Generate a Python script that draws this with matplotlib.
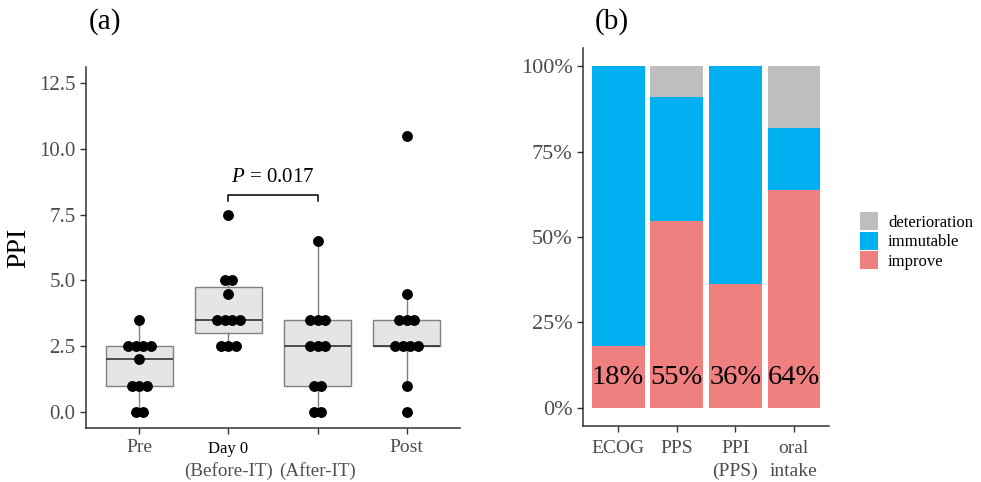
import numpy as np
import matplotlib.pyplot as plt

plt.rcParams['font.family'] = ['Liberation Serif', 'DejaVu Serif']
plt.rcParams['mathtext.fontset'] = 'custom'
plt.rcParams['mathtext.rm'] = 'Liberation Serif'
plt.rcParams['mathtext.it'] = 'Liberation Serif:italic'

# (a) PPI values per time point (11 patients each)
groups = ['Pre', 'Day 0 (Before-IT)', '(After-IT)', 'Post']
ppi_pre = [0, 0, 1, 1, 1, 2, 2.5, 2.5, 2.5, 2.5, 3.5]
ppi_before = [2.5, 2.5, 2.5, 3.5, 3.5, 3.5, 3.5, 4.5, 5, 5, 7.5]
ppi_after = [0, 0, 1, 1, 2.5, 2.5, 2.5, 3.5, 3.5, 3.5, 6.5]
ppi_post = [0, 1, 2.5, 2.5, 2.5, 2.5, 3.5, 3.5, 3.5, 4.5, 10.5]
p_label = '= 0.017'

# (b) counts out of 11 patients
items = ['ECOG', 'PPS', 'PPI\n(PPS)', 'oral\nintake']
n_total = 11
improve = [2, 6, 4, 7]
immutable = [9, 4, 7, 2]
deterioration = [0, 1, 0, 2]

fig = plt.figure(figsize=(9.81, 4.82), dpi=100)
W, H = 981, 482


def px_axes(l, t, r, b):
    return fig.add_axes([l / W, 1 - b / H, (r - l) / W, (b - t) / H])


tick_gray = '#4d4d4d'

# ---------- panel (a) ----------
ax = px_axes(86, 67, 460, 428)
data = [ppi_pre, ppi_before, ppi_after, ppi_post]
pos = np.arange(1, 5)
ax.boxplot(data, positions=pos, widths=0.75, showfliers=False, patch_artist=True,
           boxprops=dict(facecolor='#e5e5e5', edgecolor='#808080', linewidth=1),
           whiskerprops=dict(color='#808080', linewidth=1),
           capprops=dict(linewidth=0),
           medianprops=dict(color='#333333', linewidth=1.2), zorder=1)

dot_w = 0.086  # horizontal spacing of stacked dots
for x0, vals in zip(pos, data):
    uv, cnt = np.unique(vals, return_counts=True)
    for v, c in zip(uv, cnt):
        xs = x0 + (np.arange(c) - (c - 1) / 2) * dot_w
        ax.plot(xs, [v] * c, 'o', color='black', markersize=6.8, zorder=3)

ax.set_xlim(0.4, 4.6)
ax.set_ylim(-0.6, 13.1)
ax.set_yticks(np.arange(0, 12.6, 2.5))
ax.set_yticklabels([f'{v:.1f}' for v in np.arange(0, 12.6, 2.5)])
ax.set_xticks(pos)
ax.set_xticklabels(['Pre', '', '', 'Post'])
ax.tick_params(axis='y', labelsize=15, colors='#333333', labelcolor=tick_gray,
               length=4, width=1)
ax.tick_params(axis='x', labelsize=14, colors='#333333', labelcolor=tick_gray,
               length=4, width=1, pad=4)
for s in ['top', 'right']:
    ax.spines[s].set_visible(False)
for s in ['left', 'bottom']:
    ax.spines[s].set_color('#333333')
    ax.spines[s].set_linewidth(1.1)
ax.set_ylabel('PPI', fontsize=20, color='black', labelpad=6)

xt = ax.get_xaxis_transform()
ax.text(2, -0.035, 'Day 0', transform=xt, ha='center', va='top', fontsize=12, color='black')
ax.text(2, -0.095, '(Before-IT)', transform=xt, ha='center', va='top', fontsize=13.7, color=tick_gray)
ax.text(3, -0.095, '(After-IT)', transform=xt, ha='center', va='top', fontsize=13.7, color=tick_gray)

# significance bracket
yb, yt = 8.0, 8.25
ax.plot([2, 2, 3, 3], [yb, yt, yt, yb], color='black', linewidth=1.1)
ax.text(2.5, 8.55, r'$P$ ' + p_label, ha='center', va='bottom', fontsize=15)

fig.text(105 / W, 1 - 22 / H, '(a)', ha='center', va='center', fontsize=21)

# ---------- panel (b) ----------
bx = px_axes(583, 48, 829, 426)
xb = np.arange(1, 5)
imp = np.array(improve) / n_total
imm = np.array(immutable) / n_total
det = np.array(deterioration) / n_total
c_imp, c_imm, c_det = '#f08080', '#00b0f0', '#bebebe'
bx.bar(xb, imp, width=0.9, color=c_imp, label='improve')
bx.bar(xb, imm, width=0.9, bottom=imp, color=c_imm, label='immutable')
bx.bar(xb, det, width=0.9, bottom=imp + imm, color=c_det, label='deterioration')
for x, v in zip(xb, imp):
    bx.text(x, 0.09, f'{round(v * 100):.0f}%', ha='center', va='center', fontsize=20.5, color='black')

bx.set_xlim(0.4, 4.6)
bx.set_ylim(-0.053, 1.053)
bx.set_yticks([0, 0.25, 0.5, 0.75, 1.0])
bx.set_yticklabels(['0%', '25%', '50%', '75%', '100%'])
bx.set_xticks(xb)
bx.set_xticklabels(items, linespacing=1.45)
bx.tick_params(axis='y', labelsize=16, colors='#333333', labelcolor=tick_gray, length=4, width=1)
bx.tick_params(axis='x', labelsize=14, colors='#333333', labelcolor=tick_gray, length=4, width=1, pad=6)
for s in ['top', 'right']:
    bx.spines[s].set_visible(False)
for s in ['left', 'bottom']:
    bx.spines[s].set_color('#333333')
    bx.spines[s].set_linewidth(1.1)

h, l = bx.get_legend_handles_labels()
fig.legend(h[::-1], l[::-1], loc='center left', bbox_to_anchor=(853 / W, 1 - 241 / H),
           frameon=False, fontsize=12, handlelength=1.1, handleheight=1.3,
           handletextpad=0.6, labelspacing=0.05, borderaxespad=0)

fig.text(612 / W, 1 - 22 / H, '(b)', ha='center', va='center', fontsize=21)

fig.savefig('out.png', dpi=100)
